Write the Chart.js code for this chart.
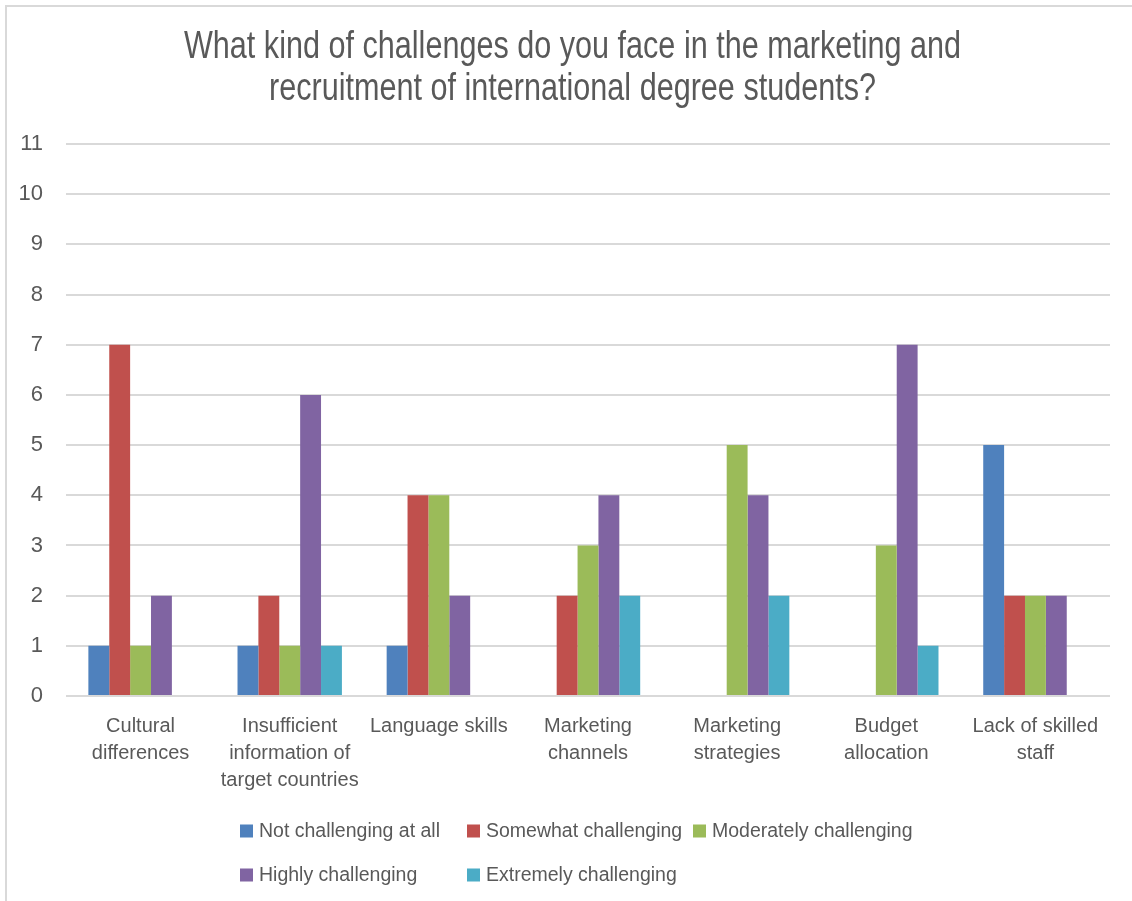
<!DOCTYPE html>
<html>
<head>
<meta charset="utf-8">
<script src="https://cdn.jsdelivr.net/npm/chart.js@4/dist/chart.umd.min.js"></script>
<style>
  html, body { margin: 0; padding: 0; background: #fff; }
  #wrap { width: 1132px; height: 901px; }
</style>
</head>
<body>
<div id="wrap"><canvas id="chart" width="1132" height="901"></canvas></div>
<script>
// Survey: challenges in marketing / recruitment of international degree students

const categories = [
  ["Cultural", "differences"],
  ["Insufficient", "information of", "target countries"],
  "Language skills",
  ["Marketing", "channels"],
  ["Marketing", "strategies"],
  ["Budget", "allocation"],
  ["Lack of skilled", "staff"],
];

const notChallenging        = [1, 1, 1, 0, 0, 0, 5];
const somewhatChallenging   = [7, 2, 4, 2, 0, 0, 2];
const moderatelyChallenging = [1, 1, 4, 3, 5, 3, 2];
const highlyChallenging     = [2, 6, 2, 4, 4, 7, 2];
const extremelyChallenging  = [0, 1, 0, 2, 2, 1, 0];

const seriesNames = [
  "Not challenging at all",
  "Somewhat challenging",
  "Moderately challenging",
  "Highly challenging",
  "Extremely challenging",
];
const seriesColors = ["#4F81BD", "#C0504D", "#9BBB59", "#8064A2", "#4BACC6"];

const yTicks = [0, 1, 2, 3, 4, 5, 6, 7, 8, 9, 10, 11];

const titleLines = [
  "What kind of challenges do you face in the marketing and",
  "recruitment of international degree students?",
];

const textColor = "#595959";
const gridColor = "#d9d9d9";

const seriesValues = [
  notChallenging,
  somewhatChallenging,
  moderatelyChallenging,
  highlyChallenging,
  extremelyChallenging,
];

const datasets = seriesNames.map((name, i) => ({
  label: name,
  data: seriesValues[i],
  backgroundColor: seriesColors[i],
  borderWidth: 0,
  barPercentage: 1.0,
  categoryPercentage: 0.7,
}));

// white background + the thin frame on left/top edges
const frame = {
  id: "frame",
  beforeDraw(chart) {
    const ctx = chart.ctx;
    ctx.save();
    ctx.fillStyle = "#fff";
    ctx.fillRect(0, 0, chart.width, chart.height);
    ctx.strokeStyle = gridColor;
    ctx.lineWidth = 2;
    ctx.beginPath();
    ctx.moveTo(6, chart.height);
    ctx.lineTo(6, 6);
    ctx.lineTo(chart.width, 6);
    ctx.stroke();
    ctx.restore();
  },
};

// condensed two-line title (no narrow font installed, so squeeze horizontally)
const condensedTitle = {
  id: "condensedTitle",
  afterDraw(chart) {
    const ctx = chart.ctx;
    const sx = 0.805;
    const cx = 572.5;
    ctx.save();
    ctx.font = "38px 'Liberation Sans', Arial, sans-serif";
    ctx.fillStyle = textColor;
    ctx.textAlign = "center";
    ctx.textBaseline = "middle";
    ctx.scale(sx, 1);
    titleLines.forEach((line, i) => {
      ctx.fillText(line, cx / sx, 48 + i * 42);
    });
    ctx.restore();
  },
};

// Excel-style legend laid out in columns (2 rows)
const gridLegend = {
  id: "gridLegend",
  afterDraw(chart) {
    const ctx = chart.ctx;
    const cols = [240, 467, 693];
    const rows = [831, 875];
    const box = 13;
    ctx.save();
    ctx.font = "19.5px 'Liberation Sans', Arial, sans-serif";
    ctx.textBaseline = "middle";
    ctx.textAlign = "left";
    chart.data.datasets.forEach((ds, i) => {
      const x = cols[i % 3];
      const y = rows[Math.floor(i / 3)];
      ctx.fillStyle = ds.backgroundColor;
      ctx.fillRect(x, y - box / 2, box, box);
      ctx.fillStyle = textColor;
      ctx.fillText(ds.label, x + box + 6, y + 1);
    });
    ctx.restore();
  },
};

new Chart(document.getElementById("chart"), {
  type: "bar",
  data: { labels: categories, datasets },
  plugins: [frame, condensedTitle, gridLegend],
  options: {
    responsive: false,
    animation: false,
    layout: { padding: { left: 0, right: 22, top: 144, bottom: 0 } },
    plugins: {
      legend: { display: false },
      tooltip: { enabled: false },
      title: { display: false },
    },
    scales: {
      x: {
        grid: { display: false },
        border: { display: false },
        ticks: {
          color: textColor,
          padding: 9,
          maxRotation: 0,
          autoSkip: false,
          font: { family: "'Liberation Sans', Arial", size: 20, lineHeight: 1.35 },
        },
        afterFit: (scale) => { scale.height = 205; },
      },
      y: {
        min: 0,
        max: 11,
        afterBuildTicks: (scale) => { scale.ticks = yTicks.map((v) => ({ value: v })); },
        grid: { color: gridColor, lineWidth: 2, drawTicks: false },
        border: { display: false },
        ticks: {
          color: textColor,
          padding: 23,
          font: { family: "'Liberation Sans', Arial", size: 22 },
        },
        afterFit: (scale) => { scale.width = 66; },
      },
    },
  },
});
</script>
</body>
</html>
